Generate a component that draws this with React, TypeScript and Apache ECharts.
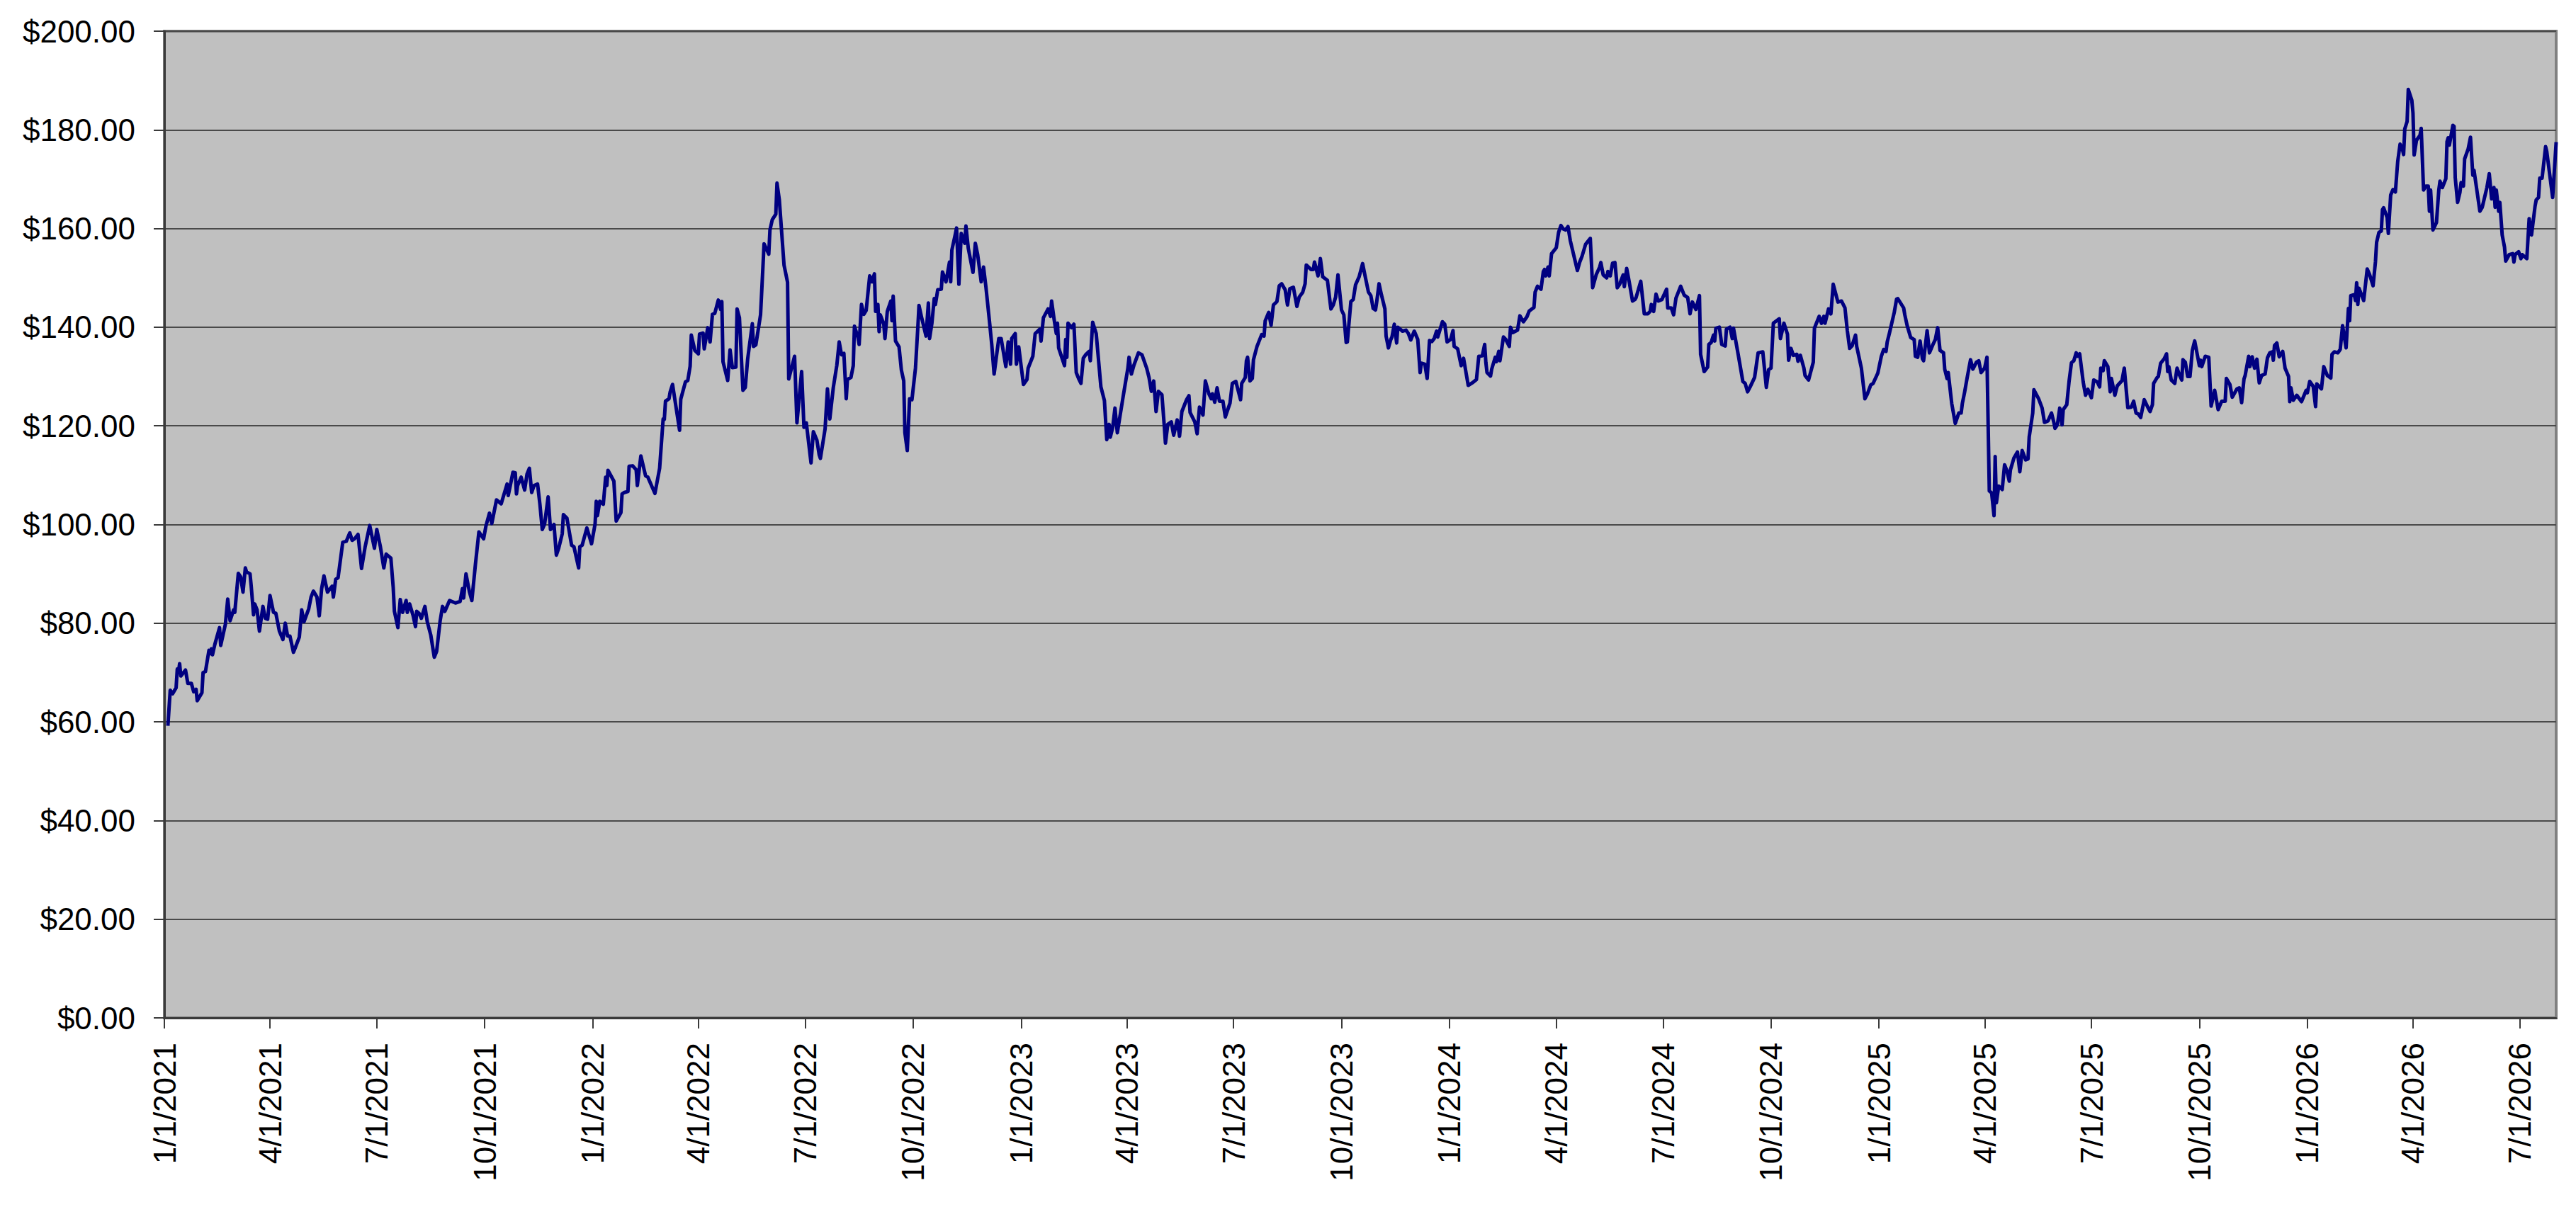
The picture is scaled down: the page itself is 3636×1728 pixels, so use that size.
import { useEffect, useRef } from "react";
import * as echarts from "echarts";

const FONT = "'Liberation Sans', Arial, Helvetica, sans-serif";

// x axis domain (one category per calendar day)
const axisStart = { y: 2021, m: 1, d: 1 };
const axisEnd = { y: 2026, m: 8, d: 1 };

const tickLabels = [
  "1/1/2021", "4/1/2021", "7/1/2021", "10/1/2021",
  "1/1/2022", "4/1/2022", "7/1/2022", "10/1/2022",
  "1/1/2023", "4/1/2023", "7/1/2023", "10/1/2023",
  "1/1/2024", "4/1/2024", "7/1/2024", "10/1/2024",
  "1/1/2025", "4/1/2025", "7/1/2025", "10/1/2025",
  "1/1/2026", "4/1/2026", "7/1/2026",
];

const yMin = 0;
const yMax = 200;
const yStep = 20;

// price readings: [days since 1/1/2021, price]
const prices2021: [number, number][] = [
  [3, 59.2], [5, 66.4], [7, 65.7], [10, 66.9], [11, 70.7], [12, 70.0], [13, 71.8], [14, 69.3], [18, 70.5], [20, 67.8],
  [23, 67.8], [25, 66.1], [27, 66.6], [28, 64.3], [32, 65.9], [33, 70.0], [35, 70.2], [38, 74.5], [39, 73.8], [40, 74.8],
  [41, 73.6], [43, 75.7], [47, 79.1], [48, 75.5], [52, 79.8], [54, 84.9], [56, 80.5], [59, 82.7], [60, 82.2], [63, 90.1],
  [65, 89.4], [67, 86.3], [69, 91.2], [70, 90.4], [73, 90.0], [74, 87.5], [76, 81.7], [77, 83.9], [79, 82.7], [81, 78.4],
  [84, 83.4], [86, 81.0], [88, 80.8], [90, 85.6], [93, 82.2], [95, 82.0], [98, 78.4], [101, 76.7], [103, 80.0], [105, 77.4],
  [107, 77.4], [110, 74.1], [112, 75.3], [115, 77.2], [117, 82.7], [119, 80.3], [123, 82.9], [125, 85.3], [127, 86.5], [130, 85.3],
  [132, 81.5], [134, 87.0], [136, 89.6], [139, 86.3], [143, 87.5], [144, 85.3], [146, 88.9], [148, 89.2], [152, 96.4], [155, 96.6],
  [158, 98.3], [160, 96.8], [162, 97.1], [165, 98.0], [168, 91.1], [171, 95.4], [175, 99.8], [179, 95.2], [181, 99.0], [184, 95.6],
  [187, 91.2], [189, 94.0], [193, 93.2], [195, 87.2], [196, 82.4], [199, 79.1], [201, 84.8], [203, 82.2], [206, 84.6], [207, 82.2],
  [209, 83.9], [212, 81.5], [214, 79.3], [215, 82.4], [217, 82.0], [219, 81.0], [222, 83.4], [224, 80.3], [227, 77.6], [230, 73.1],
  [232, 74.3], [235, 80.5], [237, 83.4], [239, 82.4], [243, 84.6], [248, 84.1], [252, 84.4], [254, 87.0], [255, 85.1], [257, 90.0],
  [260, 86.3], [262, 84.6], [265, 91.8], [268, 98.5], [272, 97.1], [274, 99.7], [277, 102.3], [279, 100.2], [283, 105.0], [287, 104.2],
  [292, 108.2], [293, 105.9], [295, 108.2], [297, 110.6], [299, 110.5], [300, 106.2], [301, 107.9], [304, 109.6], [307, 107.0], [309, 110.2],
  [311, 111.4], [313, 106.5], [315, 107.9], [318, 108.2], [320, 104.1], [322, 99.0], [324, 100.1], [327, 105.6], [329, 99.0], [332, 100.0],
  [334, 93.8], [336, 95.2], [339, 98.1], [340, 102.0], [343, 101.3], [347, 95.8], [349, 95.5], [353, 91.2], [354, 95.5], [356, 95.8],
  [360, 99.3], [364, 96.1],
];

const prices2022: [number, number][] = [
  [367, 100.1], [368, 104.7], [369, 101.8], [371, 104.7], [374, 104.1], [376, 109.6], [377, 107.9], [378, 111.0], [383, 108.8], [385, 100.7],
  [389, 102.4], [390, 106.2], [392, 106.5], [395, 106.7], [396, 111.8], [399, 111.9], [402, 111.1], [403, 107.9], [406, 113.9], [410, 109.9],
  [412, 109.6], [418, 106.3], [422, 111.4], [425, 121.4], [426, 121.3], [427, 125.0], [430, 125.5], [431, 126.9], [433, 128.4], [439, 119.1],
  [440, 125.4], [444, 128.9], [446, 129.2], [448, 132.1], [449, 138.4], [452, 135.3], [455, 134.6], [456, 138.6], [459, 138.8], [460, 135.6],
  [463, 139.9], [465, 137.0], [467, 142.6], [469, 142.8], [472, 145.5], [474, 143.6], [475, 145.2], [476, 133.0], [480, 129.2], [482, 135.4],
  [484, 131.8], [487, 131.9], [488, 143.7], [490, 141.9], [493, 127.2], [495, 127.8], [497, 133.5], [501, 140.7], [502, 136.1], [504, 136.4],
  [508, 142.5], [511, 156.9], [515, 154.8], [516, 159.7], [518, 161.8], [521, 162.9], [522, 169.2], [524, 165.8], [528, 152.6], [531, 149.1],
  [532, 129.5], [537, 134.1], [539, 120.6], [543, 131.0], [545, 119.7], [547, 120.6], [551, 112.5], [553, 118.8], [556, 117.1], [558, 114.1],
  [559, 113.4], [563, 119.4], [565, 127.5], [567, 121.4], [570, 127.8], [573, 132.3], [575, 137.0], [577, 134.4], [579, 134.7], [581, 125.5],
  [582, 129.4], [585, 129.8], [587, 132.2], [588, 140.2], [591, 137.9], [592, 136.5], [594, 144.6], [596, 142.6], [598, 143.4], [601, 150.4],
  [603, 149.2], [605, 150.8], [606, 143.2], [608, 144.6], [609, 139.1], [610, 142.5], [613, 140.6], [614, 137.7], [616, 143.2], [619, 145.3],
  [620, 141.3], [621, 146.3], [623, 137.2], [626, 136.0], [628, 131.3], [630, 129.1], [631, 118.6], [633, 115.0], [635, 125.5], [637, 125.3],
  [640, 131.7], [642, 139.9], [643, 144.4], [645, 142.2], [649, 138.2], [651, 144.9], [652, 137.7], [654, 140.8], [656, 145.8], [657, 144.6],
  [659, 147.6], [662, 147.7], [663, 151.2], [666, 149.2], [669, 153.2], [670, 149.2], [671, 155.6], [674, 158.9], [675, 160.1], [677, 148.7],
  [679, 159.0], [682, 157.0], [683, 160.5], [685, 156.0], [689, 151.1], [691, 157.0], [693, 154.7], [696, 149.2], [698, 152.2], [700, 148.2],
  [703, 141.3], [705, 136.5], [707, 130.5], [711, 137.7], [713, 137.7], [717, 132.0], [719, 137.0], [721, 132.5], [722, 137.7], [725, 138.7],
  [726, 132.5], [728, 136.0],
];

const prices2023: [number, number][] = [
  [732, 128.4], [735, 129.4], [736, 131.7], [740, 134.1], [742, 138.7], [746, 139.6], [747, 137.2], [749, 141.9], [753, 143.7], [755, 142.2],
  [756, 145.3], [758, 141.8], [760, 138.7], [761, 140.8], [762, 135.8], [767, 132.2], [768, 137.5], [769, 133.9], [770, 140.8], [773, 139.9],
  [775, 140.6], [777, 130.8], [779, 129.6], [781, 128.6], [783, 133.7], [785, 134.4], [788, 135.1], [789, 133.2], [791, 141.0], [794, 138.7],
  [798, 127.9], [801, 125.1], [803, 117.2], [805, 120.3], [806, 117.7], [808, 119.6], [810, 123.6], [812, 118.6], [817, 126.0], [821, 131.7],
  [822, 133.9], [824, 130.5], [826, 132.2], [830, 134.8], [833, 134.4], [837, 131.7], [839, 129.8], [841, 127.0], [843, 129.1], [845, 122.9],
  [847, 127.0], [850, 126.3], [852, 120.0], [853, 116.5], [855, 120.3], [858, 120.8], [860, 118.1], [863, 121.2], [865, 117.9], [867, 122.9],
  [871, 125.3], [873, 126.1], [874, 122.7], [878, 120.8], [880, 118.4], [882, 123.8], [885, 122.2], [887, 129.1], [890, 126.5], [892, 125.5],
  [893, 126.5], [895, 124.8], [897, 127.7], [899, 125.0], [902, 125.0], [904, 121.8], [908, 124.6], [910, 128.6], [913, 129.0], [917, 125.3],
  [918, 128.6], [921, 129.8], [922, 133.2], [923, 133.9], [925, 129.1], [927, 129.6], [928, 133.4], [931, 136.1], [935, 138.5], [937, 138.2],
  [938, 141.3], [941, 143.0], [943, 140.4], [945, 144.5], [948, 145.2], [950, 148.4], [952, 148.8], [955, 147.6], [957, 144.5], [959, 147.8],
  [962, 148.1], [965, 144.2], [967, 146.1], [970, 147.1], [972, 148.8], [973, 152.6], [977, 151.7], [979, 151.7], [980, 153.2], [983, 150.4],
  [985, 153.9], [986, 152.1], [987, 150.2], [991, 149.5], [994, 143.7], [996, 144.5], [998, 146.1], [1000, 150.6], [1003, 143.5], [1005, 142.5],
  [1007, 136.9], [1008, 137.0], [1011, 145.2], [1013, 145.6], [1015, 148.6], [1018, 150.2], [1021, 152.9], [1023, 150.5], [1026, 147.1], [1028, 146.4],
  [1030, 143.8], [1032, 143.5], [1033, 145.1], [1035, 148.8], [1037, 146.6], [1040, 143.7], [1041, 138.2], [1043, 135.8], [1045, 137.5], [1046, 138.0],
  [1048, 140.6], [1050, 136.8], [1051, 140.0], [1055, 139.2], [1058, 139.4], [1060, 138.7], [1062, 137.4], [1065, 139.2], [1068, 137.5], [1070, 130.8],
  [1071, 132.7], [1074, 132.5], [1076, 129.6], [1078, 137.3], [1080, 137.1], [1082, 137.7], [1084, 139.2], [1085, 138.0], [1089, 141.1], [1091, 140.6],
  [1093, 137.0],
];

const prices2024: [number, number][] = [
  [1096, 137.5], [1098, 139.3], [1099, 136.1], [1102, 135.6], [1105, 132.2], [1107, 133.7], [1111, 128.2], [1115, 128.8], [1118, 129.4], [1120, 134.1],
  [1123, 134.2], [1125, 136.5], [1126, 132.9], [1127, 130.8], [1130, 130.1], [1131, 131.5], [1134, 133.9], [1135, 133.0], [1137, 135.1], [1138, 133.2],
  [1141, 138.0], [1143, 137.5], [1146, 136.1], [1147, 140.0], [1149, 138.9], [1153, 139.4], [1155, 142.3], [1158, 141.1], [1161, 142.1], [1163, 143.3],
  [1167, 144.0], [1168, 147.1], [1170, 148.3], [1173, 147.7], [1175, 151.3], [1176, 151.7], [1177, 150.4], [1179, 152.2], [1180, 150.4], [1182, 154.9],
  [1186, 156.1], [1188, 159.2], [1190, 160.6], [1192, 159.9], [1194, 159.7], [1196, 160.4], [1198, 157.5], [1204, 151.5], [1206, 153.2], [1208, 154.4],
  [1211, 156.8], [1215, 158.0], [1217, 148.0], [1220, 150.6], [1223, 152.2], [1224, 153.1], [1226, 150.6], [1229, 150.0], [1230, 151.3], [1232, 150.4],
  [1234, 153.0], [1236, 153.1], [1238, 148.0], [1240, 148.7], [1243, 150.6], [1244, 148.2], [1246, 151.9], [1248, 149.4], [1251, 145.3], [1253, 145.6],
  [1254, 146.0], [1258, 149.3], [1261, 142.7], [1264, 142.7], [1266, 143.2], [1267, 144.6], [1269, 143.2], [1271, 146.7], [1273, 145.3], [1276, 145.6],
  [1280, 147.7], [1281, 143.9], [1284, 143.9], [1286, 142.5], [1288, 145.9], [1292, 148.3], [1295, 146.5], [1298, 146.0], [1300, 142.7], [1302, 145.1],
  [1305, 143.6], [1308, 146.4], [1309, 134.5], [1312, 131.0], [1315, 131.9], [1316, 136.5], [1318, 136.9], [1320, 138.4], [1321, 137.2], [1322, 139.8],
  [1325, 140.0], [1327, 136.5], [1330, 136.2], [1331, 139.6], [1334, 140.0], [1336, 137.7], [1337, 139.8], [1341, 134.5], [1345, 129.0], [1347, 128.6],
  [1349, 126.9], [1351, 127.8], [1355, 129.8], [1358, 134.8], [1362, 135.0], [1365, 127.8], [1367, 131.4], [1369, 131.7], [1371, 140.8], [1376, 141.7],
  [1377, 137.7], [1380, 140.8], [1383, 138.6], [1384, 133.3], [1386, 135.7], [1388, 134.3], [1391, 134.5], [1392, 133.1], [1394, 134.3], [1397, 131.7],
  [1398, 130.2], [1401, 129.3], [1405, 132.9], [1406, 139.8], [1410, 142.2], [1412, 140.8], [1414, 142.2], [1415, 140.8], [1418, 143.7], [1420, 142.7],
  [1422, 148.7], [1426, 145.1], [1429, 145.3], [1432, 143.9], [1434, 139.3], [1436, 135.7], [1438, 136.2], [1441, 138.4], [1442, 136.1], [1446, 131.7],
  [1449, 125.5], [1451, 126.4], [1454, 128.3], [1456, 128.6], [1460, 130.7],
];

const prices2025: [number, number][] = [
  [1463, 134.1], [1465, 135.5], [1467, 135.1], [1468, 137.0], [1470, 138.9], [1474, 143.0], [1476, 145.7], [1477, 145.8], [1482, 143.9], [1483, 142.5],
  [1485, 140.3], [1488, 137.9], [1491, 137.5], [1492, 134.1], [1494, 133.9], [1496, 137.2], [1498, 133.6], [1499, 133.2], [1502, 139.3], [1504, 134.8],
  [1507, 136.5], [1509, 137.5], [1511, 139.9], [1513, 135.3], [1516, 134.8], [1517, 131.5], [1519, 129.6], [1520, 130.8], [1523, 124.5], [1526, 120.5],
  [1529, 122.6], [1531, 122.6], [1532, 124.5], [1534, 126.9], [1536, 129.6], [1539, 133.4], [1541, 131.5], [1544, 132.9], [1546, 133.2], [1548, 130.8],
  [1551, 131.7], [1553, 133.9], [1555, 106.8], [1557, 106.4], [1559, 101.8], [1560, 113.8], [1561, 104.4], [1563, 107.8], [1566, 107.1], [1568, 112.1],
  [1570, 110.9], [1572, 108.8], [1573, 111.1], [1576, 113.5], [1579, 114.7], [1581, 110.7], [1583, 115.0], [1586, 113.1], [1588, 113.3], [1589, 117.8],
  [1592, 122.6], [1593, 127.3], [1597, 125.5], [1600, 123.6], [1602, 120.7], [1605, 121.0], [1608, 122.6], [1610, 120.7], [1611, 119.5], [1613, 120.2],
  [1615, 123.6], [1617, 120.2], [1618, 123.3], [1621, 124.3], [1623, 129.1], [1625, 132.8], [1627, 133.2], [1629, 134.8], [1630, 134.1], [1632, 134.6],
  [1635, 128.9], [1637, 126.2], [1639, 127.4], [1642, 125.7], [1644, 129.3], [1647, 128.9], [1649, 127.9], [1650, 131.7], [1652, 131.2], [1653, 133.2],
  [1656, 132.0], [1658, 126.9], [1659, 129.6], [1662, 126.2], [1664, 128.1], [1667, 128.9], [1668, 129.1], [1670, 131.7], [1673, 123.7], [1676, 123.8],
  [1678, 125.0], [1680, 122.6], [1682, 122.4], [1684, 121.7], [1687, 125.3], [1690, 123.8], [1692, 122.9], [1694, 124.3], [1695, 128.6], [1698, 129.8],
  [1699, 130.0], [1701, 132.7], [1704, 133.6], [1706, 134.6], [1707, 131.0], [1708, 132.0], [1710, 129.3], [1713, 128.6], [1715, 131.7], [1717, 130.3],
  [1719, 129.3], [1720, 133.4], [1722, 132.9], [1724, 130.0], [1726, 130.0], [1728, 135.3], [1730, 137.2], [1734, 132.2], [1735, 133.3], [1736, 132.0],
  [1739, 134.1], [1742, 133.9], [1744, 124.0], [1747, 127.2], [1750, 123.3], [1753, 125.0], [1756, 125.0], [1757, 129.6], [1760, 128.4], [1762, 125.8],
  [1766, 127.5], [1768, 127.7], [1770, 124.7], [1772, 129.5], [1773, 130.2], [1776, 134.1], [1777, 132.0], [1779, 134.0], [1781, 131.7], [1783, 133.5],
  [1785, 128.7], [1787, 130.2], [1790, 130.5], [1792, 133.8], [1794, 134.8], [1796, 135.0], [1797, 133.3], [1798, 136.3], [1800, 136.8], [1802, 134.0],
  [1805, 135.1], [1807, 131.7], [1810, 130.0], [1811, 124.9], [1812, 127.7], [1814, 125.2], [1817, 126.2], [1821, 124.9], [1825, 127.2],
];

const prices2026: [number, number][] = [
  [1826, 126.7], [1828, 129.0], [1831, 128.0], [1833, 123.9], [1834, 128.5], [1838, 127.5], [1840, 132.0], [1843, 130.2], [1846, 129.7], [1847, 134.5],
  [1849, 135.0], [1852, 134.8], [1854, 135.5], [1856, 140.3], [1859, 135.8], [1861, 143.8], [1862, 141.3], [1863, 146.4], [1866, 146.6], [1867, 145.4],
  [1868, 149.0], [1869, 144.6], [1870, 147.9], [1874, 145.4], [1877, 151.8], [1879, 150.7], [1882, 148.4], [1884, 153.2], [1885, 157.2], [1887, 159.2],
  [1889, 159.5], [1890, 163.8], [1891, 164.2], [1894, 162.2], [1895, 159.0], [1897, 166.8], [1899, 167.9], [1901, 167.4], [1903, 173.6], [1905, 177.1],
  [1907, 176.1], [1908, 175.0], [1909, 180.2], [1911, 181.7], [1912, 188.2], [1915, 186.0], [1916, 183.4], [1917, 174.9], [1919, 177.9], [1922, 178.9],
  [1923, 180.3], [1925, 167.8], [1927, 168.6], [1929, 168.6], [1930, 163.5], [1931, 167.8], [1933, 159.7], [1936, 161.2], [1938, 167.8], [1939, 169.6],
  [1941, 168.3], [1944, 170.1], [1945, 177.6], [1946, 178.4], [1947, 176.9], [1950, 180.9], [1951, 180.7], [1952, 170.3], [1954, 165.3], [1956, 167.3],
  [1957, 169.3], [1959, 168.6], [1960, 174.1], [1963, 176.1], [1965, 178.5], [1967, 170.8], [1968, 171.8], [1973, 163.5], [1975, 164.3], [1979, 168.3],
  [1981, 171.1], [1983, 166.0], [1985, 168.3], [1986, 164.3], [1987, 167.8], [1989, 163.5], [1990, 165.3], [1992, 158.7], [1994, 156.2], [1995, 153.4],
  [1998, 154.7], [2001, 154.9], [2002, 153.2], [2003, 154.7], [2006, 155.3], [2008, 153.9], [2009, 154.7], [2013, 153.9], [2015, 162.0], [2017, 158.7],
  [2020, 164.5], [2021, 165.8], [2023, 166.3], [2024, 170.2], [2026, 170.2], [2029, 176.6], [2030, 175.6], [2035, 166.3], [2038, 177.5],
];

function buildCategories(): string[] {
  const out: string[] = [];
  const start = Date.UTC(axisStart.y, axisStart.m - 1, axisStart.d);
  const end = Date.UTC(axisEnd.y, axisEnd.m - 1, axisEnd.d);
  for (let t = start; t <= end; t += 86400000) {
    const dt = new Date(t);
    out.push(`${dt.getUTCMonth() + 1}/${dt.getUTCDate()}/${dt.getUTCFullYear()}`);
  }
  return out;
}

export default function App() {
  const ref = useRef<HTMLDivElement | null>(null);

  useEffect(() => {
    if (!ref.current) return;
    const chart = echarts.init(ref.current, null, { renderer: "svg" });

    const categories = buildCategories();
    const seriesData: (number | null)[] = categories.map(() => null);
    const all = [...prices2021, ...prices2022, ...prices2023, ...prices2024, ...prices2025, ...prices2026];
    all.forEach(([d, v]) => {
      if (d >= 0 && d < seriesData.length) seriesData[d] = v;
    });

    const tickSet = new Set(tickLabels);
    const isTick = (_i: number, value: string) => tickSet.has(value);

    chart.setOption({
      animation: false,
      backgroundColor: "#ffffff",
      textStyle: { fontFamily: FONT },
      grid: {
        left: 232,
        right: 28,
        top: 44,
        bottom: 291,
        show: true,
        backgroundColor: "#C0C0C0",
        borderColor: "#808080",
        borderWidth: 4,
        containLabel: false,
        outerBoundsMode: "none",
      },
      xAxis: {
        type: "category",
        data: categories,
        boundaryGap: false,
        axisLine: { show: true, onZero: false, lineStyle: { color: "#3a3a3a", width: 3 } },
        axisTick: { show: true, interval: isTick, length: 15, inside: false, lineStyle: { color: "#3a3a3a", width: 2 } },
        axisLabel: {
          interval: isTick,
          rotate: 90,
          margin: 35,
          fontSize: 44,
          color: "#000000",
          fontFamily: FONT,
        },
        splitLine: { show: false },
      },
      yAxis: {
        type: "value",
        min: yMin,
        max: yMax,
        interval: yStep,
        axisLine: { show: true, lineStyle: { color: "#3a3a3a", width: 3 } },
        axisTick: { show: true, length: 15, lineStyle: { color: "#3a3a3a", width: 2 } },
        axisLabel: {
          margin: 41,
          fontSize: 44,
          color: "#000000",
          fontFamily: FONT,
          formatter: (v: number) => "$" + v.toFixed(2),
        },
        splitLine: { show: true, lineStyle: { color: "#4a4a4a", width: 2 } },
      },
      series: [
        {
          type: "line",
          data: seriesData,
          connectNulls: true,
          showSymbol: false,
          symbol: "none",
          lineStyle: { color: "#000080", width: 5, join: "round" },
          itemStyle: { color: "#000080" },
          emphasis: { disabled: true },
          z: 3,
        },
      ],
    });

    return () => {
      chart.dispose();
    };
  }, []);

  return (
    <div
      ref={ref}
      style={{ position: "fixed", left: 0, top: 0, width: "3636px", height: "1728px", background: "#ffffff" }}
    />
  );
}
